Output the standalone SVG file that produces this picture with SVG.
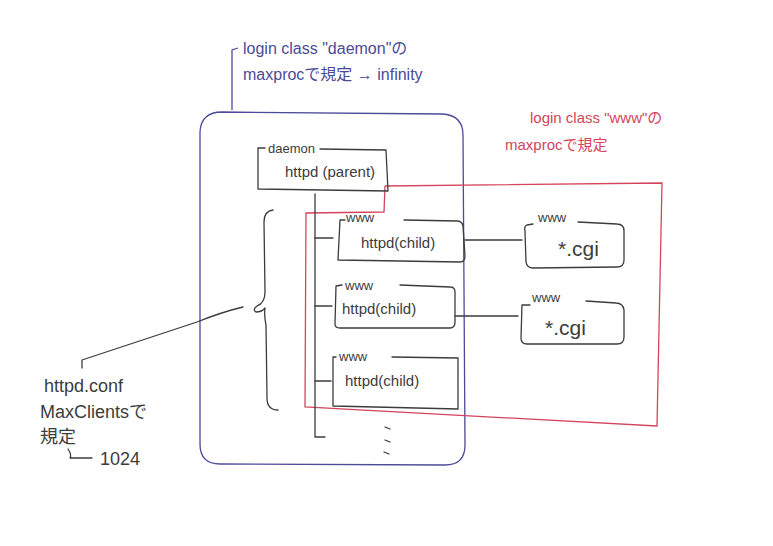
<svg xmlns="http://www.w3.org/2000/svg" width="773" height="546" viewBox="0 0 773 546">
<style>
.ink{fill:none;stroke:#3c3c3c;stroke-width:1.3;stroke-linecap:round;stroke-linejoin:round}
.blue{fill:none;stroke:#4b4b98;stroke-width:1.3}
.red{fill:none;stroke:#d4445c;stroke-width:1.3}
.t{font-family:"Liberation Sans","Noto Sans CJK JP",sans-serif;fill:#3c3c3c}
.tb{font-family:"Liberation Sans","Noto Sans CJK JP",sans-serif;fill:#4b4b98;font-size:16px}
.tr{font-family:"Liberation Sans","Noto Sans CJK JP",sans-serif;fill:#d4445c;font-size:15px}
.lbl{font-size:13px}
.main{font-size:15px}
.note{font-size:18px}
.cgi{font-size:21px}
</style>
<rect width="773" height="546" fill="#ffffff"/>

<g id="daemon-class">
<path class="blue" d="M232 110 L232 50 L238 48"/>
<path class="blue" d="M222 112 L442 114 Q463 115 463 135 L465 445 Q465 465 445 465 L220 464 Q200 464 200 444 L200 132 Q201 112 222 112 Z"/>
<text class="tb" x="243" y="54">login class "daemon"の</text>
<text class="tb" x="243" y="80">maxprocで規定 → infinity</text>
</g>

<g id="www-class">
<path class="red" d="M385 186 L662 183 L657 426 L305 407 L306 213 L384 212 L385 186"/>
<text class="tr" x="530" y="123">login class "www"の</text>
<text class="tr" x="505" y="150">maxprocで規定</text>
</g>

<g id="parent">
<path class="ink" d="M265 148 L258 148 L258 189 L388 191 L386 150 L320 149"/>
<text class="t lbl" x="268" y="153">daemon</text>
<text class="t main" x="285" y="177">httpd (parent)</text>
</g>

<g id="child1">
<path class="ink" d="M345 220 L340 220 L338 260 L460 262 Q465 262 465 256 L463 226 Q462 221 457 221 L404 220"/>
<text class="t lbl" x="346" y="222">www</text>
<text class="t main" x="361" y="248">httpd(child)</text>
</g>

<g id="child2">
<path class="ink" d="M342 285 L336 286 L335 324 Q335 328 340 328 L450 328 Q455 328 455 322 L455 292 Q455 287 450 287 L400 285"/>
<text class="t lbl" x="345" y="290">www</text>
<text class="t main" x="342" y="314">httpd(child)</text>
</g>

<g id="child3">
<path class="ink" d="M336 357 L333 357 L333 406 L458 409 L458 358 L392 357"/>
<text class="t lbl" x="339" y="361">www</text>
<text class="t main" x="345" y="386">httpd(child)</text>
</g>

<g id="cgi1">
<path class="ink" d="M533 224 L527 225 Q524 226 525 231 L526 262 Q527 268 533 268 L617 267 Q624 267 624 260 L624 231 Q624 224 617 224 L578 222"/>
<text class="t lbl" x="538" y="222">www</text>
<text class="t cgi" x="558" y="256">*.cgi</text>
</g>

<g id="cgi2">
<path class="ink" d="M530 305 L522 305 L521 338 Q521 344 527 344 L617 344 Q624 344 624 337 L624 310 Q623 303 616 303 L586 301"/>
<text class="t lbl" x="532" y="302">www</text>
<text class="t cgi" x="545" y="335">*.cgi</text>
</g>

<g id="maxclients-note">
<text class="t note" x="44" y="392">httpd.conf</text>
<text class="t note" x="40" y="418">MaxClientsで</text>
<text class="t note" x="40" y="443">規定</text>
<path class="ink" d="M68 449 Q72 455 70 458 L92 458"/>
<text class="t note" x="100" y="465">1024</text>
</g>

<g id="connectors">
<path class="ink" d="M315 194 L315 437 L325 437"/>
<path class="ink" d="M315 238 L333 238"/>
<path class="ink" d="M315 306 L332 306"/>
<path class="ink" d="M315 381 L331 381"/>
<path class="ink" d="M465 240 L522 240"/>
<path class="ink" d="M455 316 L518 316"/>
<path class="ink" d="M385 427 L390 429 M385 440 L390 442 M384 452 L389 454"/>
<path class="ink" d="M273 210 Q264 211 264 222 L265 292 Q265 303 257 306 Q252 310 256 312 Q262 312 265 308 Q264 316 266 325 L267 398 Q267 410 278 410"/>
<path class="ink" d="M243 307 Q222 312 197 322 L82 360 L82 368"/>
</g>
</svg>
